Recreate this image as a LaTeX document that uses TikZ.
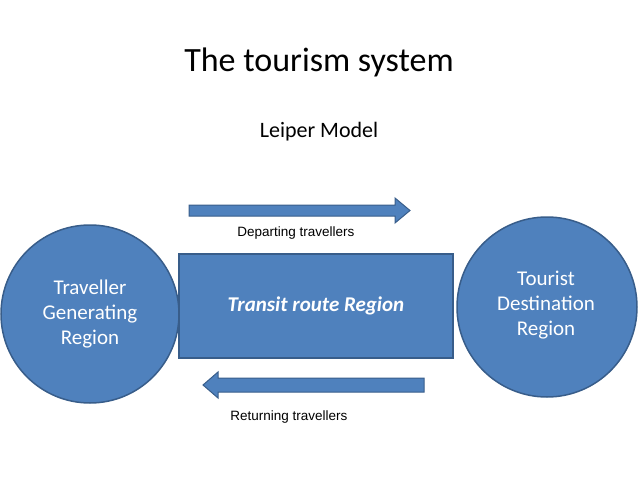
\documentclass[tikz,border=0pt]{standalone}
\usepackage{fontspec}
\setmainfont{Carlito}
\newfontfamily\arialf{Liberation Sans}
\definecolor{fillb}{HTML}{4F81BD}
\definecolor{edgeb}{HTML}{385D8A}
\begin{document}
\begin{tikzpicture}[x=1pt,y=-1pt,
  shapeb/.style={fill=fillb,draw=edgeb,line width=1.5pt},
  wtxt/.style={text=white,font=\fontsize{21}{25}\selectfont,align=center},
  lbl/.style={font=\arialf\fontsize{13.5}{16}\selectfont}]
\useasboundingbox (0,0) rectangle (638,479);
\node (title) at (319,62) {\fontsize{34}{40}\selectfont The tourism system};
\node (sub) at (319,132) {\fontsize{22}{26}\selectfont Leiper Model};
\draw[shapeb] (90,314) circle (89);
\node[wtxt] (tgr) at (90,314) {Traveller\\Generating\\Region};
\draw[shapeb] (547,307) circle (90);
\node[wtxt] (tdr) at (546,305) {Tourist\\Destination\\Region};
\node[shapeb,minimum width=274pt,minimum height=104pt,inner sep=0pt] (tr) at (316,306) {};
\node[text=white,font=\bfseries\itshape\fontsize{21}{25}\selectfont] at (tr) {Transit route Region};
\draw[shapeb,line width=1pt] (189,205) -- (395,205) -- (395,198) -- (410,210.5) -- (395,223) -- (395,216) -- (189,216) -- cycle;
\draw[shapeb,line width=1pt] (424,378) -- (218,378) -- (218,372) -- (203,385) -- (218,398) -- (218,392) -- (424,392) -- cycle;
\node[lbl] (dep) at (296,233) {Departing travellers};
\node[lbl] (ret) at (289,417) {Returning travellers};
\end{tikzpicture}
\end{document}
